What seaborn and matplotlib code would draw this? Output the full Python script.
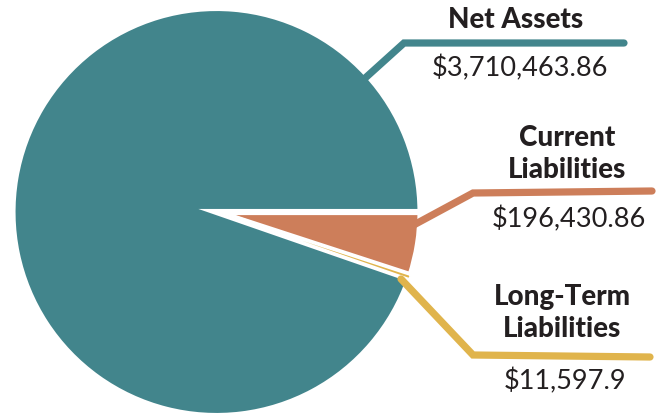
import matplotlib
matplotlib.use("Agg")
import matplotlib.pyplot as plt
import seaborn as sns

# ---- data ----
categories = ["Current Liabilities", "Long-Term Liabilities", "Net Assets"]
values = [196430.86, 11597.90, 3710463.86]
value_labels = ["$196,430.86", "$11,597.9", "$3,710,463.86"]
title_labels = ["Current\nLiabilities", "Long-Term\nLiabilities", "Net Assets"]
colors = ["#CD7E5A", "#E0B44C", "#42858C"]

sns.set_theme(style="white")
plt.rcParams["font.family"] = ["Lato", "DejaVu Sans"]

W, H = 665, 413
fig = plt.figure(figsize=(W / 100, H / 100), dpi=100)
ax = fig.add_axes([0, 0, 1, 1])

def py(y):
    return H - y

pal = sns.color_palette(colors)
wedges, _ = ax.pie(values, colors=pal, startangle=0, counterclock=False,
                   center=(216.5, py(212)), radius=204, frame=True,
                   wedgeprops=dict(edgecolor="white", linewidth=4.4, joinstyle="miter"))
# thin sliver drawn on top with a finer edge so it stays visible
wedges[1].set_zorder(wedges[1].get_zorder() + 0.5)
wedges[1].set_linewidth(1.2)

ax.set_xlim(0, W)
ax.set_ylim(0, H)
ax.set_aspect("equal")
ax.axis("off")

# leader lines (pixel layout)
leaders = {
    "Net Assets": [(363, 80), (404, 43), (624, 43)],
    "Current Liabilities": [(410, 227), (473, 193), (652, 191)],
    "Long-Term Liabilities": [(401, 279), (473, 355), (650, 357)],
}
for cat, col in zip(categories, colors):
    pts = leaders[cat]
    ax.plot([p[0] for p in pts], [py(p[1]) for p in pts], color=col,
            lw=5.2, solid_capstyle="round", solid_joinstyle="miter", zorder=5)

title_pos = {
    "Net Assets": (516, 20),
    "Current Liabilities": (567, 154),
    "Long-Term Liabilities": (562, 313),
}
value_pos = {
    "Net Assets": (520, 68),
    "Current Liabilities": (569, 219),
    "Long-Term Liabilities": (565, 381),
}
for cat, t, v in zip(categories, title_labels, value_labels):
    x, y = title_pos[cat]
    ax.text(x, py(y), t, ha="center", va="center", fontsize=20,
            fontweight="black", color="#231F20", linespacing=1.28)
    x, y = value_pos[cat]
    ax.text(x, py(y), v, ha="center", va="center", fontsize=19.5,
            color="#231F20")

fig.savefig("out.png", dpi=100)
